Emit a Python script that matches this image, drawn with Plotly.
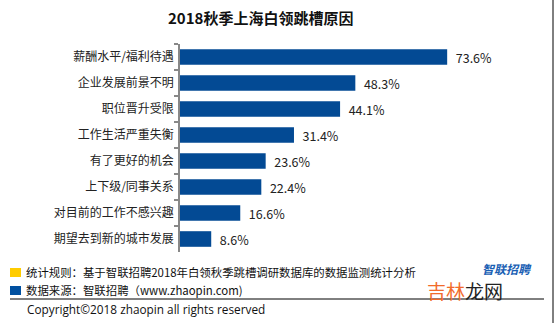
import plotly.graph_objects as go

categories = ["薪酬水平/福利待遇", "企业发展前景不明", "职位晋升受限", "工作生活严重失衡",
              "有了更好的机会", "上下级/同事关系", "对目前的工作不感兴趣", "期望去到新的城市发展"]
values = [73.6, 48.3, 44.1, 31.4, 23.6, 22.4, 16.6, 8.6]

W, H = 554, 323
L, R, T, B = 180, 11, 44, 71
PW, PH = W - L - R, H - T - B

def px(x):
    return (x - L) / PW

def py(y):
    return (H - B - y) / PH

FONT = "Noto Sans CJK SC"
BAR = "#034a94"

fig = go.Figure(go.Bar(
    x=values, y=categories, orientation="h",
    marker=dict(color=BAR, line=dict(width=0)),
    width=0.6,
    text=["  " + f"{v:.1f}%" for v in values],
    textposition="outside", cliponaxis=False, constraintext="none",
    textfont=dict(family=FONT, size=12.5, color="#222222"),
))

shapes = [
    dict(type="rect", xref="paper", yref="paper", x0=px(10), x1=px(21), y0=py(277), y1=py(268),
         fillcolor="#ffcc00", line=dict(width=0)),
    dict(type="rect", xref="paper", yref="paper", x0=px(10), x1=px(21), y0=py(295), y1=py(286),
         fillcolor="#0050a0", line=dict(width=0)),
    dict(type="line", xref="paper", yref="paper", x0=px(10), x1=px(544), y0=py(299), y1=py(299),
         line=dict(color="#000000", width=1)),
    dict(type="line", xref="paper", yref="paper", x0=px(553), x1=px(553), y0=py(0), y1=py(323),
         line=dict(color="#000000", width=1)),
]

annotations = [
    dict(text="<b>2018秋季上海白领跳槽原因</b>", xref="paper", yref="paper", x=px(260), y=py(17),
         showarrow=False, xanchor="center", yanchor="middle",
         font=dict(family=FONT, size=15, color="#111111")),
    dict(text="统计规则：基于智联招聘2018年白领秋季跳槽调研数据库的数据监测统计分析", xref="paper", yref="paper",
         x=px(24), y=py(272), showarrow=False, xanchor="left", yanchor="middle",
         font=dict(family=FONT, size=11.4, color="#111111")),
    dict(text="数据来源：智联招聘（www.zhaopin.com)", xref="paper", yref="paper",
         x=px(24), y=py(290), showarrow=False, xanchor="left", yanchor="middle",
         font=dict(family=FONT, size=11.4, color="#111111")),
    dict(text="Copyright©2018 zhaopin all rights reserved", xref="paper", yref="paper",
         x=px(25), y=py(309), showarrow=False, xanchor="left", yanchor="middle",
         font=dict(family="Open Sans", size=11.8, color="#111111")),
    dict(text="<b><i>智联招聘</i></b>", xref="paper", yref="paper",
         x=px(507), y=py(268), showarrow=False, xanchor="center", yanchor="middle",
         font=dict(family=FONT, size=12, color="#1a5fb4")),
    dict(text="<span style='color:#f26b2a'>吉林</span>龙网", xref="paper", yref="paper",
         x=px(465), y=py(290), showarrow=False, xanchor="center", yanchor="middle",
         font=dict(family=FONT, size=19, color="#222222")),
]

fig.update_layout(
    width=W, height=H,
    margin=dict(l=L, r=R, t=T, b=B, pad=0),
    paper_bgcolor="white", plot_bgcolor="white",
    showlegend=False,
    bargap=0.4,
    shapes=shapes,
    annotations=annotations,
    xaxis=dict(range=[0, 100], visible=False, fixedrange=True),
    yaxis=dict(autorange="reversed", showline=True, linecolor="#888888", linewidth=1.5,
               ticks="outside", ticklen=4, tickcolor="#888888", tickwidth=1.5,
               tickson="boundaries", showgrid=False, ticklabelstandoff=2,
               tickfont=dict(family=FONT, size=12, color="#222222")),
    font=dict(family=FONT),
)

fig.write_html("out.html")
